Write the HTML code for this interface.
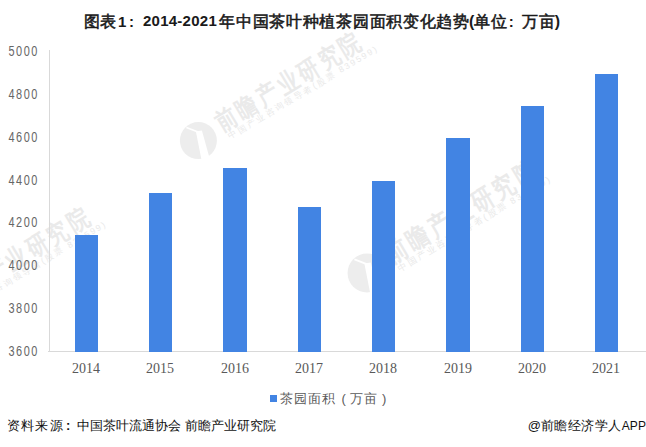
<!DOCTYPE html>
<html><head><meta charset="utf-8">
<style>
html,body{margin:0;padding:0;}
body{width:646px;height:447px;background:#fff;position:relative;overflow:hidden;font-family:"Liberation Sans",sans-serif;}
.abs{position:absolute;white-space:nowrap;}
.tt.cj,.tt .cj{font-weight:normal;-webkit-text-stroke:0.55px #1a1a1a;}
.tt{top:9.5px;font-size:16px;font-weight:bold;color:#1a1a1a;line-height:24px;}
.yl{right:607px;font-size:14px;color:#666;line-height:14px;letter-spacing:1.9px;transform:scaleX(0.78);transform-origin:100% 50%;}
.xl{font-family:"Liberation Serif",serif;font-size:14px;color:#595959;line-height:16px;width:60px;text-align:center;}
.bar{position:absolute;background:#4284e3;bottom:95px;}
#yaxis{left:49px;top:50px;width:1px;height:302px;background:#d9d9d9;}
#xaxis{left:48px;top:351px;width:598px;height:1px;background:#d9d9d9;}
#legsq{left:270px;top:395px;width:7px;height:7px;background:#4284e3;}
.pr{display:inline-block;width:14.1px;text-align:center;box-sizing:border-box;letter-spacing:0;margin-right:0;}
#legtx{left:279.8px;top:390px;font-size:13px;color:#595959;line-height:18px;letter-spacing:1.1px;}
#src{left:7px;top:417px;font-size:13px;color:#111;line-height:18px;}
#src2{right:0px;top:417px;font-size:13px;color:#111;line-height:18px;}
</style></head><body>
<svg class="abs" style="left:0;top:0" width="646" height="447" viewBox="0 0 646 447">
<g transform="translate(198.4,140.6)"><circle r="18.5" fill="#ededed"/><path d="M-2.5,-9 L3.5,-10 L11,17 L3,19 Z" fill="#fff"/><path d="M-12,-13 L1,-8" stroke="#fff" stroke-width="1.6"/></g>
<g transform="translate(198.4,140.6) rotate(-31)"><text transform="scale(0.8,1)" x="30.5" y="-4" dominant-baseline="central" font-size="25.5" font-weight="bold" letter-spacing="4.6" fill="#eaeaea">前瞻产业研究院</text><text x="28" y="12.5" dominant-baseline="central" font-size="8.5" letter-spacing="1.9" fill="#e9e9e9">中国产业咨询领导者(股票 839599)</text></g>
<g transform="translate(367,273) scale(1.05)"><circle r="18.5" fill="#ededed"/><path d="M-2.5,-9 L3.5,-10 L11,17 L3,19 Z" fill="#fff"/><path d="M-12,-13 L1,-8" stroke="#fff" stroke-width="1.6"/></g>
<g transform="translate(367,273) rotate(-31) scale(1.05)"><text transform="scale(0.8,1)" x="30.5" y="-4" dominant-baseline="central" font-size="25.5" font-weight="bold" letter-spacing="4.6" fill="#eaeaea">前瞻产业研究院</text><text x="28" y="12.5" dominant-baseline="central" font-size="8.5" letter-spacing="1.9" fill="#e9e9e9">中国产业咨询领导者(股票 839599)</text></g>
<g transform="translate(-73,316)"><circle r="18.5" fill="#ededed"/><path d="M-2.5,-9 L3.5,-10 L11,17 L3,19 Z" fill="#fff"/><path d="M-12,-13 L1,-8" stroke="#fff" stroke-width="1.6"/></g>
<g transform="translate(-73,316) rotate(-31)"><text transform="scale(0.8,1)" x="30.5" y="-4" dominant-baseline="central" font-size="25.5" font-weight="bold" letter-spacing="4.6" fill="#eaeaea">前瞻产业研究院</text><text x="28" y="12.5" dominant-baseline="central" font-size="8.5" letter-spacing="1.9" fill="#e9e9e9">中国产业咨询领导者(股票 839599)</text></g>
</svg>
<div class="abs tt" style="left:83.8px"><span class="cj">图表</span><span style="font-size:15px;margin-left:2.2px">1</span><span style="display:inline-block;width:18px;padding-left:2.6px;box-sizing:border-box;font-size:15px">:</span></div>
<div class="abs tt" style="left:143px;top:8.7px;font-size:15px;letter-spacing:0.25px">2014-2021</div>
<div class="abs tt cj" style="left:219.3px;letter-spacing:0.7px">年中国茶叶种植茶园面积变化趋势</div>
<div class="abs tt" style="left:469px;letter-spacing:0.1px">(<span class="cj">单位</span><span style="display:inline-block;width:15.8px;padding-left:2px;box-sizing:border-box;font-size:15px">:</span><span class="cj">万亩</span>)</div>

<div class="abs yl" style="top:44.0px">5000</div>
<div class="abs yl" style="top:86.9px">4800</div>
<div class="abs yl" style="top:129.7px">4600</div>
<div class="abs yl" style="top:172.6px">4400</div>
<div class="abs yl" style="top:215.4px">4200</div>
<div class="abs yl" style="top:258.3px">4000</div>
<div class="abs yl" style="top:301.1px">3800</div>
<div class="abs yl" style="top:344.0px">3600</div>

<div id="yaxis" class="abs"></div>
<div id="xaxis" class="abs"></div>

<div class="bar" style="left:75px;width:23px;top:235px"></div>
<div class="bar" style="left:149px;width:23px;top:193px"></div>
<div class="bar" style="left:223px;width:24px;top:168px"></div>
<div class="bar" style="left:298px;width:23px;top:207px"></div>
<div class="bar" style="left:372px;width:23px;top:181px"></div>
<div class="bar" style="left:446px;width:24px;top:138px"></div>
<div class="bar" style="left:521px;width:23px;top:106px"></div>
<div class="bar" style="left:595px;width:23px;top:74px"></div>

<div class="abs xl" style="left:56px;top:361px">2014</div>
<div class="abs xl" style="left:130px;top:361px">2015</div>
<div class="abs xl" style="left:205px;top:361px">2016</div>
<div class="abs xl" style="left:279px;top:361px">2017</div>
<div class="abs xl" style="left:353px;top:361px">2018</div>
<div class="abs xl" style="left:428px;top:361px">2019</div>
<div class="abs xl" style="left:502px;top:361px">2020</div>
<div class="abs xl" style="left:576px;top:361px">2021</div>

<div id="legsq" class="abs"></div>
<div id="legtx" class="abs">茶园面积<span class="pr" style="padding-left:1px">(</span>万亩<span class="pr" style="padding-right:3px">)</span></div>

<div id="src" class="abs"><span style="letter-spacing:1.2px">资料来源</span><span style="display:inline-block;width:13.6px;padding-left:2.2px;box-sizing:border-box;font-weight:bold">:</span>中国茶叶流通协会 前瞻产业研究院</div>
<div id="src2" class="abs">@<span style="letter-spacing:0.45px">前瞻经济学人</span><span style="font-size:12px;letter-spacing:0.1px">APP</span></div>
</body></html>
